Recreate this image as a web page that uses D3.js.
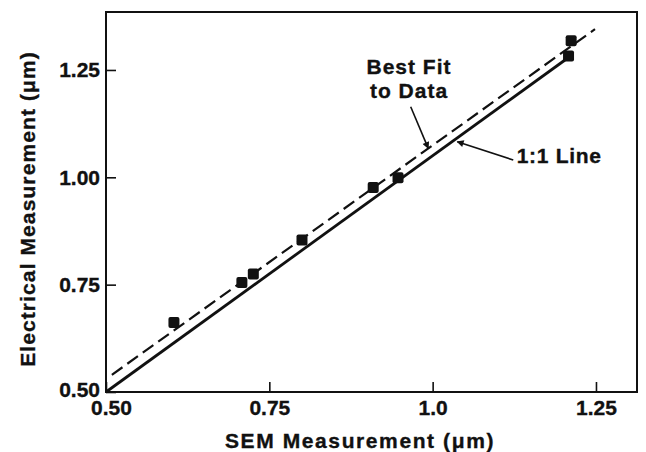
<!DOCTYPE html>
<html>
<head>
<meta charset="utf-8">
<script src="https://cdn.jsdelivr.net/npm/d3@7"></script>
<style>
  body { margin: 0; background: #fff; }
  text { font-family: "Liberation Sans", Arial, Helvetica, sans-serif; font-weight: bold; fill: #111; stroke: #111; stroke-width: 0.35px; }
</style>
</head>
<body>
<script>
var width = 646;
var height = 452;

// measured points (SEM vs electrical)
var semValues = [0.604, 0.708, 0.7255, 0.800, 0.909, 0.947, 1.208, 1.212];
var elecValues = [0.662, 0.755, 0.775, 0.854, 0.976, 0.999, 1.2825, 1.318];

// the two lines
var bestFitX = [0.509, 1.2485];
var bestFitY = [0.540, 1.345];
var oneToOneX = [0.50, 1.2026];
var oneToOneY = [0.50, 1.2732];

var xTicks = [0.50, 0.75, 1.0, 1.25];
var xTickLabels = ["0.50", "0.75", "1.0", "1.25"];
var yTicks = [0.50, 0.75, 1.00, 1.25];
var yTickLabels = ["0.50", "0.75", "1.00", "1.25"];

var plotLeft = 106, plotRight = 637, plotTop = 12, plotBottom = 392;

var x = d3.scaleLinear().domain([0.5, 1.3128]).range([plotLeft, plotRight]);
var y = d3.scaleLinear().domain([0.5, 1.385]).range([plotBottom, plotTop]);

var svg = d3.select("body").append("svg").attr("width", width).attr("height", height);

svg.append("defs").append("marker")
    .attr("id", "arrow")
    .attr("viewBox", "0 0 10 10")
    .attr("refX", 9).attr("refY", 5)
    .attr("markerWidth", 9).attr("markerHeight", 7)
    .attr("markerUnits", "userSpaceOnUse")
    .attr("orient", "auto")
    .append("path").attr("d", "M0,0 L10,5 L0,10 z").attr("fill", "#111");

// frame
svg.append("rect")
    .attr("x", plotLeft).attr("y", plotTop)
    .attr("width", plotRight - plotLeft).attr("height", plotBottom - plotTop)
    .attr("fill", "none").attr("stroke", "#111").attr("stroke-width", 2);

// axes, ticks pointing inward
var xAxis = d3.axisBottom(x).tickValues(xTicks)
    .tickFormat(function (d, i) { return xTickLabels[i]; })
    .tickSize(-10).tickPadding(8);
var gx = svg.append("g").attr("transform", "translate(0," + plotBottom + ")").call(xAxis);

var yAxis = d3.axisLeft(y).tickValues(yTicks)
    .tickFormat(function (d, i) { return yTickLabels[i]; })
    .tickSize(-10).tickPadding(6);
var gy = svg.append("g").attr("transform", "translate(" + plotLeft + ",0)").call(yAxis);

[gx, gy].forEach(function (g) {
    g.select(".domain").remove();
    g.selectAll(".tick line").attr("stroke", "#111").attr("stroke-width", 1.6);
    g.selectAll(".tick text")
        .attr("fill", "#111")
        .attr("font-size", 21)
        .attr("font-family", "Liberation Sans, Arial, sans-serif")
        .attr("font-weight", "bold");
});
// corner labels sit a little apart, as in the original
gx.selectAll(".tick text").filter(function (d, i) { return i === 0; }).attr("dx", 5);
gy.selectAll(".tick text").filter(function (d, i) { return i === 0; }).attr("y", -2);

// lines
var line = d3.line().x(function (d) { return x(d[0]); }).y(function (d) { return y(d[1]); });

svg.append("path")
    .datum(d3.zip(bestFitX, bestFitY))
    .attr("d", line)
    .attr("fill", "none").attr("stroke", "#111").attr("stroke-width", 2.2)
    .attr("stroke-dasharray", "13,6");

svg.append("path")
    .datum(d3.zip(oneToOneX, oneToOneY))
    .attr("d", line)
    .attr("fill", "none").attr("stroke", "#111").attr("stroke-width", 2.8);

// points
var sq = 11;
svg.selectAll("rect.pt").data(d3.zip(semValues, elecValues)).enter().append("rect")
    .attr("class", "pt")
    .attr("x", function (d) { return x(d[0]) - sq / 2; })
    .attr("y", function (d) { return y(d[1]) - sq / 2; })
    .attr("width", sq).attr("height", sq)
    .attr("rx", 2)
    .attr("fill", "#111");

// annotations
svg.append("text").text("Best Fit")
    .attr("x", x(0.9638)).attr("y", y(1.2399))
    .attr("text-anchor", "middle").attr("font-size", 21).attr("letter-spacing", 1);
svg.append("text").text("to Data")
    .attr("x", x(0.9638)).attr("y", y(1.184))
    .attr("text-anchor", "middle").attr("font-size", 21).attr("letter-spacing", 1);
svg.append("line")
    .attr("x1", x(0.9664)).attr("y1", y(1.1644))
    .attr("x2", x(0.9933)).attr("y2", y(1.0675))
    .attr("stroke", "#111").attr("stroke-width", 1.6)
    .attr("marker-end", "url(#arrow)");

svg.append("text").text("1:1 Line")
    .attr("x", x(1.1286)).attr("y", y(1.034))
    .attr("font-size", 21).attr("letter-spacing", 0.7);
svg.append("line")
    .attr("x1", x(1.1234)).attr("y1", y(1.0403))
    .attr("x2", x(1.0377)).attr("y2", y(1.0829))
    .attr("stroke", "#111").attr("stroke-width", 1.6)
    .attr("marker-end", "url(#arrow)");

// axis titles
svg.append("text").text("SEM Measurement (\u03bcm)")
    .attr("x", 360).attr("y", 448)
    .attr("text-anchor", "middle").attr("font-size", 21).attr("letter-spacing", 1.6);

svg.append("text").text("Electrical Measurement (\u03bcm)")
    .attr("transform", "translate(35,209) rotate(-90)")
    .attr("text-anchor", "middle").attr("font-size", 21).attr("letter-spacing", 1.1);
</script>
</body>
</html>
